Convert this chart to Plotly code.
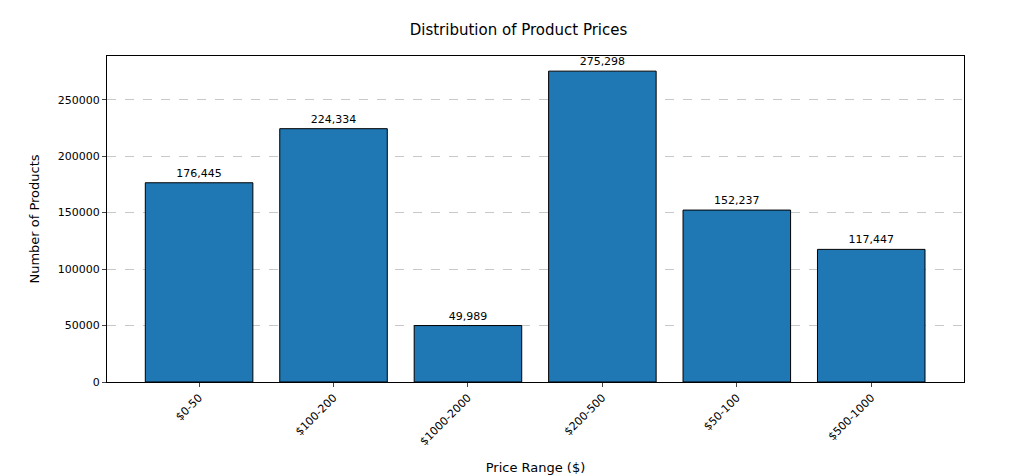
import plotly.graph_objects as go

price_ranges = ["$0-50", "$100-200", "$1000-2000", "$200-500", "$50-100", "$500-1000"]
counts = [176445, 224334, 49989, 275298, 152237, 117447]
labels = [f"{c:,}" for c in counts]

fig = go.Figure(go.Bar(
    x=list(range(len(price_ranges))), y=counts, width=0.8,
    marker=dict(color="#1f77b4", line=dict(color="black", width=1)),
    text=labels, textposition="outside", cliponaxis=False,
    textfont=dict(size=11, color="black"),
))

fig.update_layout(
    width=1021, height=476,
    margin=dict(l=99, r=65, t=48, b=92),
    plot_bgcolor="white", paper_bgcolor="white",
    font=dict(family="DejaVu Sans", size=11, color="black"),
    title=dict(text="Distribution of Product Prices", x=0.5, xanchor="center",
               y=0.955, yanchor="middle", font=dict(size=15)),
    showlegend=False,
)
fig.update_xaxes(
    tickmode="array", tickvals=list(range(len(price_ranges))), ticktext=price_ranges,
    tickangle=-45, range=[-0.685, 5.69], showline=True, linecolor="black", mirror=True,
    ticks="outside", ticklen=4, showgrid=False,
    title=dict(text="Price Range ($)", font=dict(size=13)),
)
fig.update_yaxes(
    range=[0, 288700], tickvals=[0, 50000, 100000, 150000, 200000, 250000],
    tickformat="d", showline=True, linecolor="black", mirror=True,
    ticks="outside", ticklen=4, showgrid=True, gridcolor="#c8c8c8", griddash="dash",
    zeroline=False, title=dict(text="Number of Products", font=dict(size=13)),
)

fig.write_html("out.html")
